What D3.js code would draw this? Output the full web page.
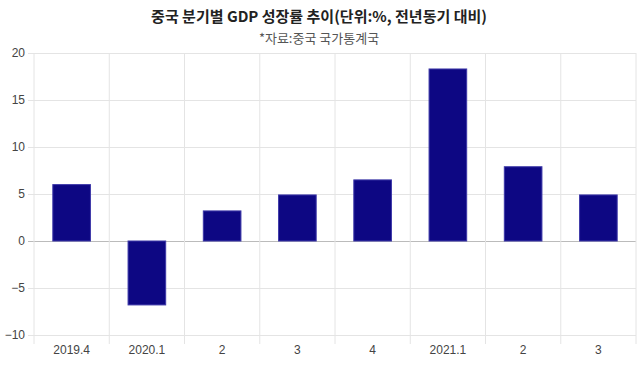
<!DOCTYPE html>
<html><head><meta charset="utf-8">
<script src="https://cdn.jsdelivr.net/npm/d3@7"></script>
<style>body{margin:0;background:#fff}svg{display:block}</style>
</head><body>
<svg id="c" width="640" height="366"></svg>
<script>
const categories = ["2019.4","2020.1","2","3","4","2021.1","2","3"];
const values = [6.0,-6.8,3.2,4.9,6.5,18.3,7.9,4.9];
const yTicks = [-10,-5,0,5,10,15,20];
const title = "중국 분기별 GDP 성장률 추이(단위:%, 전년동기 대비)";
const subtitle = "*자료:중국 국가통계국";

const svg = d3.select("#c");
const L = 34, R = 636, T = 53, B = 335;
const x = d3.scaleBand().domain(d3.range(categories.length)).range([L, R]).paddingInner(0.5).paddingOuter(0.25);
const xb = d3.scaleBand().domain(d3.range(categories.length)).range([L, R]);
const y = d3.scaleLinear().domain([-10, 20]).range([B, T]);
const font = "'Liberation Sans', Arial, sans-serif";

svg.append("text").attr("x", 319).attr("y", 22).attr("text-anchor", "middle")
  .attr("font-family", "'Noto Sans CJK KR', sans-serif").attr("font-weight", "bold")
  .attr("font-size", 15).attr("fill", "#222").text(title);
svg.append("text").attr("x", 319).attr("y", 43).attr("text-anchor", "middle")
  .attr("font-family", "'Noto Sans CJK KR', sans-serif")
  .attr("font-size", 13).attr("fill", "#555").text(subtitle);

// horizontal grid
const gy = svg.append("g").attr("transform", `translate(${L},0)`)
  .call(d3.axisLeft(y).tickValues(yTicks).tickSize(-(R - L)).tickPadding(10).tickSizeOuter(0));
gy.select(".domain").remove();
gy.selectAll(".tick line").attr("stroke", d => d === 0 ? "#bbb" : "#e4e4e4").attr("x1", -6);
gy.selectAll(".tick text").attr("font-family", font).attr("font-size", 12).attr("fill", "#444").attr("dx", 1);

// vertical grid
const vlines = d3.range(categories.length + 1).map(i => i < categories.length ? xb(i) : R);
svg.append("g").selectAll("line").data(vlines).join("line")
  .attr("x1", d => d).attr("x2", d => d).attr("y1", T).attr("y2", B + 9)
  .attr("stroke", "#e4e4e4");

// x labels
const gx = svg.append("g").attr("transform", `translate(0,${B})`)
  .call(d3.axisBottom(xb).tickFormat(i => categories[i]).tickSize(0).tickPadding(10));
gx.select(".domain").remove();
gx.selectAll(".tick text").attr("font-family", font).attr("font-size", 12).attr("fill", "#444");

// bars
svg.append("g").selectAll("rect").data(values).join("rect")
  .attr("x", (d, i) => x(i)).attr("width", x.bandwidth())
  .attr("y", d => y(Math.max(0, d))).attr("height", d => Math.abs(y(d) - y(0)))
  .attr("fill", "#0d0783").attr("stroke", "#3d38a8").attr("stroke-width", 1);
</script>
</body></html>
